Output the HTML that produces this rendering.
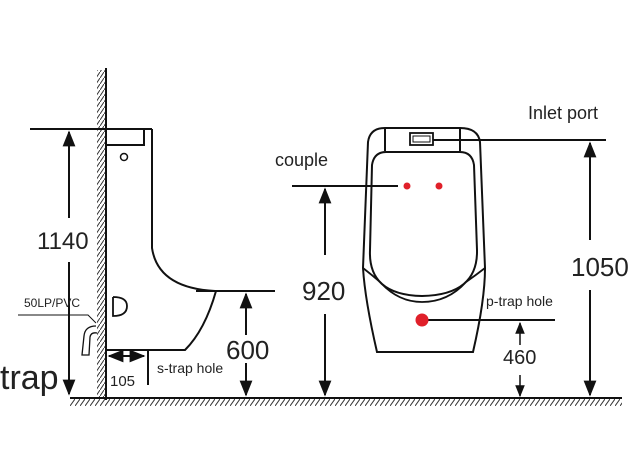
<!DOCTYPE html>
<html><head><meta charset="utf-8"><style>
html,body{margin:0;padding:0;background:#fff;}
svg{display:block;}
text{font-family:"Liberation Sans",sans-serif;fill:#222;}
</style></head><body>
<svg width="637" height="465" viewBox="0 0 637 465" xmlns="http://www.w3.org/2000/svg">
<defs>
<pattern id="hv" width="4" height="6" patternUnits="userSpaceOnUse">
<line x1="0" y1="6" x2="4" y2="0" stroke="#333" stroke-width="1"/>
</pattern>
<pattern id="hh" width="5" height="7" patternUnits="userSpaceOnUse">
<line x1="0" y1="7" x2="5" y2="0" stroke="#333" stroke-width="1"/>
</pattern>
<marker id="ah" viewBox="0 0 10 10" refX="9" refY="5" markerWidth="8" markerHeight="8" orient="auto-start-reverse">
<path d="M0,1 L10,5 L0,9 z" fill="#111"/>
</marker>
</defs>
<g stroke="#111" stroke-width="2" fill="none">
<!-- wall -->
<rect x="97" y="70" width="8" height="328" fill="url(#hv)" stroke="none"/>
<line x1="106" y1="68" x2="106" y2="400"/>
<!-- floor -->
<rect x="70" y="399" width="552" height="7" fill="url(#hh)" stroke="none"/>
<line x1="70" y1="398" x2="622" y2="398"/>
<!-- side toilet -->
<line x1="30" y1="129" x2="152" y2="129"/>
<path d="M106,145 L144,145 L144,129"/>
<circle cx="124" cy="157" r="3.5" stroke-width="1.5"/>
<path d="M152,129 L152,248 Q158,288 215,291"/>
<line x1="196" y1="291" x2="275" y2="291"/>
<path d="M216,291 Q205,330 185,350 L106,350"/>
<line x1="148" y1="350" x2="148" y2="385"/>
<line x1="109" y1="356" x2="144" y2="356" marker-start="url(#ah)" marker-end="url(#ah)"/>
<path d="M113,297 L113,316 Q127,316 127,306 Q127,297 113,297" stroke-width="1.8"/>
<path d="M18,315 L88,315 L96,323" stroke-width="1"/>
<path d="M96,326 Q85,326 84,336 L82,355 L89,355 L90,337 Q91,332 97,333" stroke-width="1.3"/>
<!-- 1140 -->
<line x1="69" y1="218" x2="69" y2="132" marker-end="url(#ah)"/>
<line x1="69" y1="262" x2="69" y2="394" marker-end="url(#ah)"/>
<!-- 600 -->
<line x1="246" y1="335" x2="246" y2="294" marker-end="url(#ah)"/>
<line x1="246" y1="363" x2="246" y2="395" marker-end="url(#ah)"/>
<!-- urinal -->
<path d="M385,128 L460,128 Q478,128 480,142 L485,268 Q485,300 473,352 L377,352 Q365,300 363,268 L368,142 Q370,128 385,128 Z"/>
<line x1="385" y1="128" x2="385" y2="151"/>
<line x1="460" y1="128" x2="460" y2="151"/>
<path d="M386,152 L460,152 Q472,152 474,165 L477,250 Q478,295 422,296 Q368,295 370,250 L372,165 Q374,152 386,152 Z"/>
<path d="M363,268 Q372,275 380,282 Q398,302 422,302 Q448,302 466,282 Q476,275 485,268" stroke-width="1.8"/>
<rect x="410" y="133" width="23" height="12" stroke-width="1.8"/>
<rect x="413" y="136" width="17" height="6" stroke-width="1"/>
<line x1="433" y1="140" x2="606" y2="140"/>
<line x1="292" y1="186" x2="398" y2="186"/>
<line x1="422" y1="320" x2="555" y2="320"/>
<!-- 920 -->
<line x1="325" y1="255" x2="325" y2="189" marker-end="url(#ah)"/>
<line x1="325" y1="314" x2="325" y2="395" marker-end="url(#ah)"/>
<!-- 1050 -->
<line x1="590" y1="240" x2="590" y2="143" marker-end="url(#ah)"/>
<line x1="590" y1="290" x2="590" y2="395" marker-end="url(#ah)"/>
<!-- 460 -->
<line x1="520" y1="345" x2="520" y2="323" marker-end="url(#ah)" stroke-width="1.5"/>
<line x1="520" y1="375" x2="520" y2="396" marker-end="url(#ah)" stroke-width="1.5"/>
</g>
<circle cx="407" cy="186" r="3.5" fill="#e0202a"/>
<circle cx="439" cy="186" r="3.5" fill="#e0202a"/>
<circle cx="422" cy="320" r="6.5" fill="#e0202a"/>
<text x="37" y="249" font-size="24">1140</text>
<text x="0" y="389" font-size="34">trap</text>
<text x="24" y="307" font-size="12">50LP/PVC</text>
<text x="110" y="386" font-size="15">105</text>
<text x="157" y="373" font-size="14">s-trap hole</text>
<text x="226" y="359" font-size="26">600</text>
<text x="528" y="119" font-size="18">Inlet port</text>
<text x="275" y="166" font-size="18">couple</text>
<text x="302" y="300" font-size="26">920</text>
<text x="571" y="276" font-size="26">1050</text>
<text x="486" y="306" font-size="14">p-trap hole</text>
<text x="503" y="364" font-size="20">460</text>
</svg>
</body></html>
